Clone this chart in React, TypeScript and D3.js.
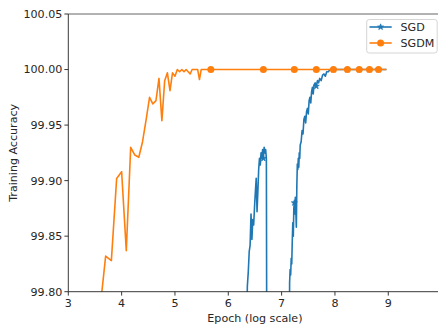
import React from "react";
import * as d3 from "d3";

// SGD (blue, star markers): epochs and training accuracy
const sgdEpochs = [
  80, 81, 82, 83, 84, 85, 86, 87, 88, 89, 90, 91, 92, 93, 94, 95, 96, 97, 98, 99, 100,
  101, 102, 103, 104, 105, 106, 141,
  142, 143, 144, 145, 146, 147, 148, 149, 150, 151, 152, 153, 154, 155, 156, 157, 158,
  159, 160, 161, 162, 163, 165, 167, 169, 171, 173, 175, 177, 179, 181, 183, 185, 187,
  189, 191, 193, 195, 198, 201, 204, 207, 210, 214, 218, 222, 226, 230, 235, 240, 251,
  301, 351, 401, 451, 500,
];
const sgdValues = [
  99.7, 99.75, 99.805, 99.818, 99.836, 99.842, 99.87, 99.847, 99.865, 99.86, 99.876,
  99.89, 99.902, 99.872, 99.89, 99.91, 99.92, 99.914, 99.925, 99.92, 99.928,
  99.92, 99.93, 99.925, 99.928, 99.92, 99.6, 99.6,
  99.808, 99.82, 99.815, 99.83, 99.825, 99.845, 99.862, 99.85, 99.875, 99.88, 99.87,
  99.885, 99.872, 99.858, 99.895, 99.915, 99.91, 99.92, 99.912, 99.925, 99.92, 99.932,
  99.935, 99.945, 99.942, 99.955, 99.958, 99.952, 99.962, 99.965, 99.96, 99.972, 99.975,
  99.97, 99.98, 99.984, 99.978, 99.986, 99.988, 99.985, 99.99, 99.988, 99.992, 99.99,
  99.995, 99.996, 99.994, 99.998, 99.998, 100.0, 100.0, 100.0, 100.0, 100.0, 100.0, 100.0,
];

// SGDM (orange, circle markers)
const sgdmEpochs = [
  10, 11, 12, 13, 14, 15, 16, 17, 18, 19, 20, 21, 22, 23, 24, 25, 26, 27, 28, 29, 30,
  31, 32, 33, 34, 35, 36, 37, 38, 39, 40, 43, 44, 45, 51, 101, 151, 201, 251, 301, 351,
  401, 451, 500,
];
const sgdmValues = [
  99.7, 99.74, 99.78, 99.832, 99.828, 99.902, 99.908, 99.837, 99.93, 99.923, 99.921,
  99.935, 99.955, 99.975, 99.969, 99.972, 99.992, 99.954, 99.99, 99.997, 99.981,
  99.997, 99.994, 100.0, 99.998, 100.0, 99.998, 100.0, 99.998, 99.996, 100.0, 100.0,
  99.991, 100.0, 100.0, 100.0, 100.0, 100.0, 100.0, 100.0, 100.0, 100.0, 100.0, 100.0,
];

const markerEpochs = [51, 101, 151, 201, 251, 301, 351, 401, 451];
const xTicks = [3, 4, 5, 6, 7, 8, 9];
const yTicks = [99.8, 99.85, 99.9, 99.95, 100.0, 100.05];
const seriesNames = ["SGD", "SGDM"];

const W = 438;
const H = 327;
const left = 68.3;
const right = 441.6;
const top = 14;
const bottom = 291.7;
const FONT = "'DejaVu Sans', sans-serif";
const BLUE = "#1f77b4";
const ORANGE = "#ff7f0e";

export default function App() {
  const x = d3.scaleLinear().domain([3, 10]).range([left, right]);
  const y = d3.scaleLinear().domain([99.8, 100.05]).range([bottom, top]);

  const sgd = sgdEpochs.map((e, i) => ({ e, v: sgdValues[i] }));
  const sgdm = sgdmEpochs.map((e, i) => ({ e, v: sgdmValues[i] }));

  const line = d3
    .line<{ e: number; v: number }>()
    .x((d) => x(Math.log2(d.e)))
    .y((d) => y(d.v));

  const star = d3.symbol().type(d3.symbolStar).size(11)();

  const sgdMarks = sgd.filter((d) => markerEpochs.includes(d.e));
  const sgdmMarks = sgdm.filter((d) => markerEpochs.includes(d.e));

  return (
    <svg
      width={W}
      height={H}
      style={{ position: "fixed", left: 0, top: 0, background: "#fff" }}
      fontFamily={FONT}
    >
      <defs>
        <clipPath id="plot">
          <rect x={left} y={top} width={right - left} height={bottom - top} />
        </clipPath>
      </defs>
      <rect x={0} y={0} width={W} height={H} fill="#fff" />

      <g clipPath="url(#plot)">
        <path d={line(sgd) || ""} fill="none" stroke={BLUE} strokeWidth={1.6} strokeLinejoin="round" />
        {sgdMarks.map((d, i) => (
          <path key={i} d={star || ""} transform={`translate(${x(Math.log2(d.e))},${y(d.v)})`} fill={BLUE} stroke={BLUE} strokeWidth={0.8} />
        ))}
        <path d={line(sgdm) || ""} fill="none" stroke={ORANGE} strokeWidth={1.6} strokeLinejoin="round" />
        {sgdmMarks.map((d, i) => (
          <circle key={i} cx={x(Math.log2(d.e))} cy={y(d.v)} r={3.5} fill={ORANGE} />
        ))}
      </g>

      {/* spines */}
      <line x1={left} x2={right} y1={top} y2={top} stroke="#999" strokeWidth={1.3} />
      <line x1={left} x2={left} y1={top} y2={bottom} stroke="#222" strokeWidth={0.9} />
      <line x1={left} x2={right} y1={bottom} y2={bottom} stroke="#222" strokeWidth={0.9} />

      {/* x ticks */}
      {xTicks.map((t) => (
        <g key={t} transform={`translate(${x(t)},${bottom})`}>
          <line y1={0} y2={3.9} stroke="#222" strokeWidth={0.9} />
          <text y={15} textAnchor="middle" fontSize={11.1} fill="#262626">
            {t}
          </text>
        </g>
      ))}
      {/* y ticks */}
      {yTicks.map((t) => (
        <g key={t} transform={`translate(${left},${y(t)})`}>
          <line x1={-3.9} x2={0} stroke="#222" strokeWidth={0.9} />
          <text x={-6} dy="0.35em" textAnchor="end" fontSize={11.1} fill="#262626">
            {t.toFixed(2)}
          </text>
        </g>
      ))}

      <text x={(left + right) / 2} y={322} textAnchor="middle" fontSize={11.1} fill="#262626">
        Epoch (log scale)
      </text>
      <text
        transform={`translate(17,${(top + bottom) / 2}) rotate(-90)`}
        textAnchor="middle"
        fontSize={11.1}
        fill="#262626"
      >
        Training Accuracy
      </text>

      {/* legend */}
      <g>
        <rect x={366.7} y={19.5} width={70.5} height={33.5} rx={2.5} fill="#fff" fillOpacity={0.8} stroke="#d0d0d0" strokeWidth={0.9} />
        <line x1={369.5} x2={391.7} y1={27} y2={27} stroke={BLUE} strokeWidth={1.6} />
        <path d={star || ""} transform="translate(380.6,27)" fill={BLUE} stroke={BLUE} strokeWidth={0.8} />
        <text x={400.5} y={27} dy="0.35em" fontSize={11.1} fill="#262626">
          {seriesNames[0]}
        </text>
        <line x1={369.5} x2={391.7} y1={43} y2={43} stroke={ORANGE} strokeWidth={1.6} />
        <circle cx={380.6} cy={43} r={3.5} fill={ORANGE} />
        <text x={400.5} y={43} dy="0.35em" fontSize={11.1} fill="#262626">
          {seriesNames[1]}
        </text>
      </g>
    </svg>
  );
}
